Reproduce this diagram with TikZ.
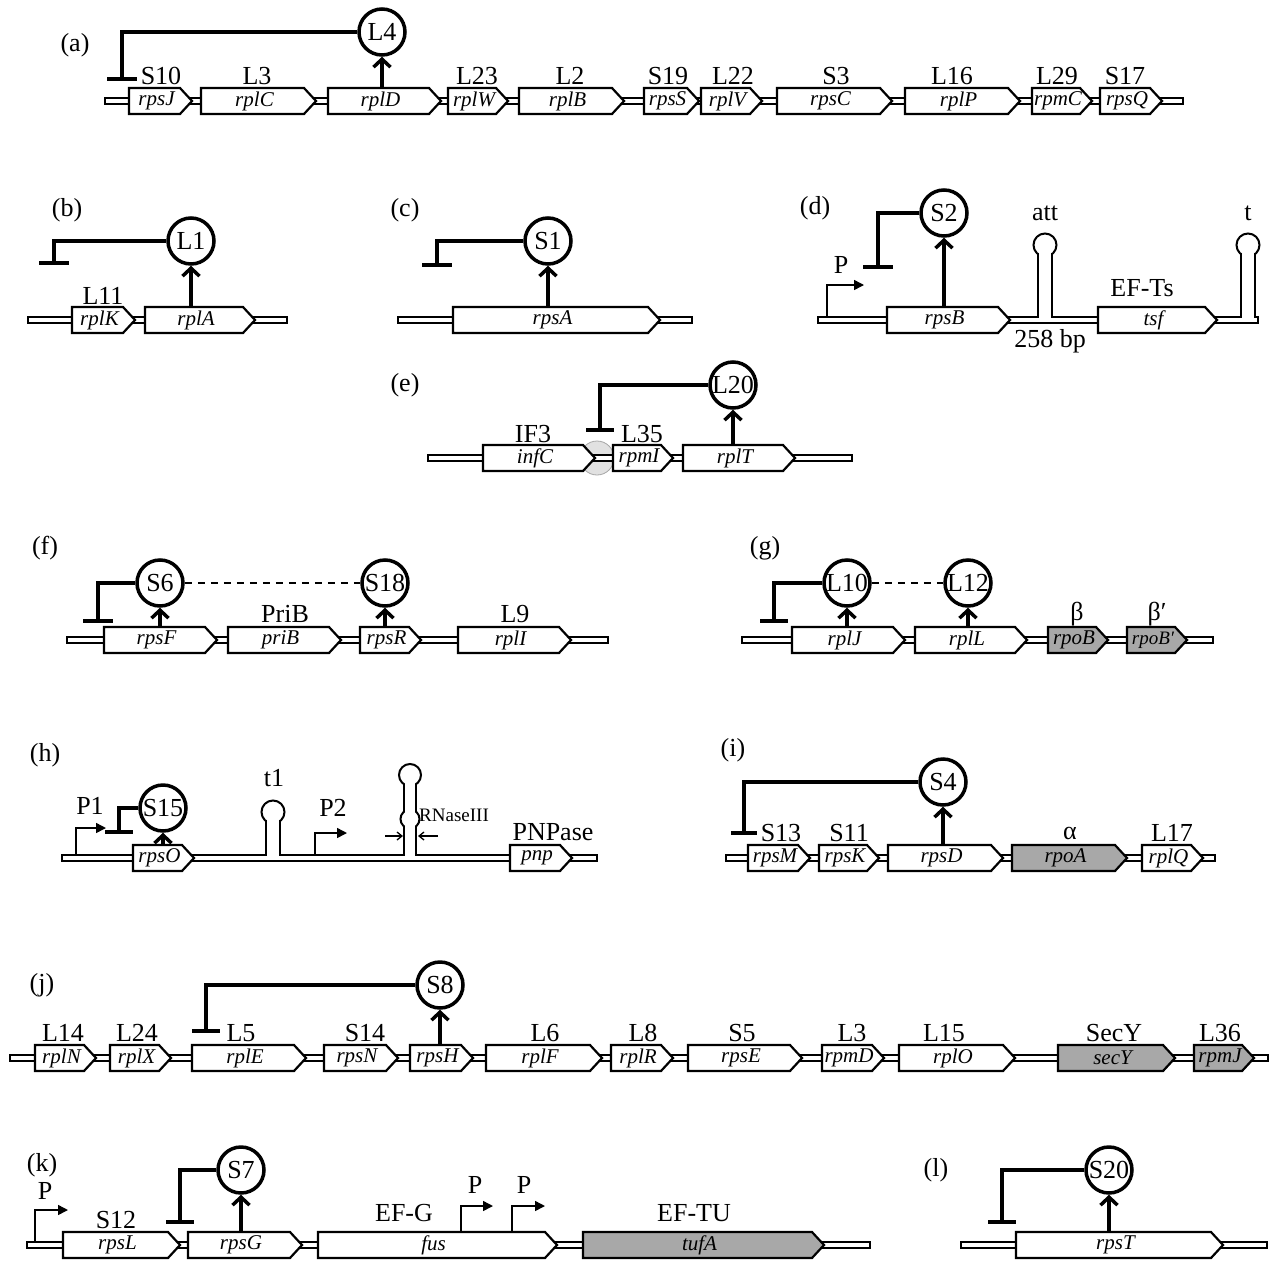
\documentclass[tikz,border=0pt]{standalone}
\usepackage{fontspec}
\setmainfont{Liberation Serif}
\usetikzlibrary{arrows.meta}
\definecolor{gg}{RGB}{168,168,168}
\definecolor{lg}{RGB}{225,225,225}
\newcommand\labf{\fontsize{26}{28}\selectfont}
\newcommand\genef{\fontsize{21}{23}\selectfont\itshape}
\tikzset{
 dnast/.style={draw=black, line width=2pt, fill=white},
 gbox/.style={draw=black, line width=2.2pt, fill=white, line join=miter},
 gboxg/.style={gbox, fill=gg},
 gtext/.style={font=\genef, inner sep=0pt},
 lab/.style={font=\labf, inner sep=0pt},
 prot/.style={circle, draw, line width=3.5pt, minimum size=46pt, inner sep=0pt, font=\labf, fill=white},
 act/.style={line width=3.5pt, -{Straight Barb[length=8pt,width=17pt]}},
 inh/.style={line width=3.5pt},
 barst/.style={line width=4.5pt},
 prom/.style={line width=1.5pt, -{Triangle[length=10pt,width=10pt]}},
 dashc/.style={line width=1.5pt, dash pattern=on 7pt off 6pt},
 thinl/.style={line width=2pt},
 rna/.style={line width=1.3pt, -{Straight Barb[length=5pt,width=8pt]}},
}
% DNA: x1 x2 y
\newcommand\dna[3]{\draw[dnast] (#1,#3-3) rectangle (#2,#3+3);}
% gene: name x1 x2 y text style
\newcommand\gn[6]{%
 \draw[#6] (#2,#4-13) -- (#3-12,#4-13) -- (#3,#4) -- (#3-12,#4+13) -- (#2,#4+13) -- cycle;
 \node[gtext] (#1) at ({(#2+#3-8)/2},#4) {#5};
 \coordinate (#1t) at ({(#2+#3-8)/2},#4-13);}
% hairpin: name cx dnaY loopY
\newcommand\hpin[4]{%
 \draw[thinl, fill=white] (#2,#4) circle[radius=11.5pt];
 \fill[white] (#2-6,#4+8) rectangle (#2+6,#3-1.9);
 \draw[thinl] (#2-7,#4+9.1) -- (#2-7,#3-3) (#2+7,#4+9.1) -- (#2+7,#3-3);
 \coordinate (#1) at (#2,#4);}
% bar: coordinate name
\newcommand\tbar[2]{\draw[barst] ([xshift=-#2pt]#1) -- ([xshift=#2pt]#1);}
\begin{document}
\begin{tikzpicture}[x=1pt,y=-1pt]
\useasboundingbox (0,0) rectangle (1275,1261);
\fill[white] (0,0) rectangle (1275,1261);

% ---------------- (a)
\node[lab] (la) at (75,45) {(a)};
\dna{105}{1183}{101}
\gn{rpsJ}{129}{192}{101}{rpsJ}{gbox}
\gn{rplC}{201}{316}{101}{rplC}{gbox}
\gn{rplD}{328}{441}{101}{rplD}{gbox}
\gn{rplW}{448}{508}{101}{rplW}{gbox}
\gn{rplB}{519}{624}{101}{rplB}{gbox}
\gn{rpsS}{644}{699}{101}{rpsS}{gbox}
\gn{rplV}{701}{762}{101}{rplV}{gbox}
\gn{rpsC}{777}{892}{101}{rpsC}{gbox}
\gn{rplP}{905}{1020}{101}{rplP}{gbox}
\gn{rpmC}{1032}{1092}{101}{rpmC}{gbox}
\gn{rpsQ}{1100}{1162}{101}{rpsQ}{gbox}
\node[lab] (aS10) at (161,76) {S10};
\node[lab] (aL3) at (257,76) {L3};
\node[lab] (aL23) at (477,76) {L23};
\node[lab] (aL2) at (570,76) {L2};
\node[lab] (aS19) at (668,76) {S19};
\node[lab] (aL22) at (733,76) {L22};
\node[lab] (aS3) at (836,76) {S3};
\node[lab] (aL16) at (952,76) {L16};
\node[lab] (aL29) at (1057,76) {L29};
\node[lab] (aS17) at (1125,76) {S17};
\node[prot] (L4) at (382,32) {L4};
\draw[act] (L4 |- rplDt) -- (L4);
\coordinate (bA) at (122,79);
\draw[inh] (L4.west) -| (bA);
\tbar{bA}{15}

% ---------------- (b)
\node[lab] (lb) at (67,210) {(b)};
\dna{28}{287}{320}
\gn{rplK}{72}{135}{320}{rplK}{gbox}
\gn{rplA}{145}{255}{320}{rplA}{gbox}
\node[lab] (bL11) at (103,296) {L11};
\node[prot] (L1) at (191,241) {L1};
\draw[act] (L1 |- rplAt) -- (L1);
\coordinate (bB) at (54,263);
\draw[inh] (L1.west) -| (bB);
\tbar{bB}{15}

% ---------------- (c)
\node[lab] (lc) at (405,210) {(c)};
\dna{398}{692}{320}
\gn{rpsA}{453}{660}{320}{rpsA}{gbox}
\node[prot] (S1) at (548,241) {S1};
\draw[act] (S1 |- rpsAt) -- (S1);
\coordinate (bC) at (437,265);
\draw[inh] (S1.west) -| (bC);
\tbar{bC}{15}

% ---------------- (d)
\node[lab] (ld) at (815,208) {(d)};
\dna{818}{1258}{320}
\gn{rpsB}{887}{1010}{320}{rpsB}{gbox}
\gn{tsf}{1098}{1217}{320}{tsf}{gbox}
\hpin{att}{1045}{320}{245}
\hpin{term}{1248}{320}{245}
\node[lab] (dAtt) at (1045,213) {att};
\node[lab] (dT) at (1248,213) {t};
\node[lab] (dBp) at (1050,341) {258 bp};
\node[lab] (dEFTs) at (1142,288) {EF-Ts};
\node[prot] (S2) at (944,213) {S2};
\draw[act] (S2 |- rpsBt) -- (S2);
\coordinate (bD) at (878,267);
\draw[inh] (S2.west) -| (bD);
\tbar{bD}{15}
\coordinate (pD) at (827,317);
\coordinate (pDe) at (864,285);
\draw[prom] (pD) |- (pDe);
\node[lab] (dP) at (841,265) {P};

% ---------------- (e)
\node[lab] (le) at (405,385) {(e)};
\draw[draw=gray!70, line width=0.8pt, fill=lg] (597,458) circle[radius=17pt];
\dna{428}{852}{458}
\gn{infC}{483}{595}{458}{infC}{gbox}
\gn{rpmI}{613}{673}{458}{rpmI}{gbox}
\gn{rplT}{683}{795}{458}{rplT}{gbox}
\node[lab] (eIF3) at (533,434) {IF3};
\node[lab] (eL35) at (642,434) {L35};
\node[prot] (L20) at (733,385) {L20};
\draw[act] (L20 |- rplTt) -- (L20);
\coordinate (bE) at (600,430);
\draw[inh] (L20.west) -| (bE);
\tbar{bE}{14}

% ---------------- (f)
\node[lab] (lf) at (45,548) {(f)};
\dna{67}{608}{640}
\gn{rpsF}{104}{217}{640}{rpsF}{gbox}
\gn{priB}{228}{341}{640}{priB}{gbox}
\gn{rpsR}{360}{421}{640}{rpsR}{gbox}
\gn{rplI}{458}{571}{640}{rplI}{gbox}
\node[lab] (fPriB) at (285,614) {PriB};
\node[lab] (fL9) at (515,614) {L9};
\node[prot] (S6) at (160,583) {S6};
\node[prot] (S18) at (385,583) {S18};
\draw[act] (S6 |- rpsFt) -- (S6);
\draw[act] (S18 |- rpsRt) -- (S18);
\draw[dashc] (S6) -- (S18);
\coordinate (bF) at (98,621);
\draw[inh] (S6.west) -| (bF);
\tbar{bF}{15}

% ---------------- (g)
\node[lab] (lg) at (765,548) {(g)};
\dna{742}{1213}{640}
\gn{rplJ}{792}{905}{640}{rplJ}{gbox}
\gn{rplL}{915}{1027}{640}{rplL}{gbox}
\gn{rpoB}{1048}{1108}{640}{rpoB}{gboxg}
\gn{rpoBp}{1127}{1187}{640}{\fontsize{19}{21}\selectfont rpoB′}{gboxg}
\node[lab] (gBeta) at (1077,614) {β};
\node[lab] (gBetap) at (1157,614) {β′};
\node[prot] (L10) at (847,583) {L10};
\node[prot] (L12) at (968,583) {L12};
\draw[act] (L10 |- rplJt) -- (L10);
\draw[act] (L12 |- rplLt) -- (L12);
\draw[dashc] (L10) -- (L12);
\coordinate (bG) at (774,621);
\draw[inh] (L10.west) -| (bG);
\tbar{bG}{14}

% ---------------- (h)
\node[lab] (lh) at (45,755) {(h)};
\dna{62}{597}{858}
\gn{rpsO}{133}{194}{858}{rpsO}{gbox}
\gn{pnp}{510}{572}{858}{pnp}{gbox}
\node[lab] (hPNP) at (553,832) {PNPase};
\hpin{tone}{273}{858}{812}
\node[lab] (hT1) at (274,778) {t1};
% double hairpin
\draw[thinl, fill=white] (410,775) circle[radius=11pt];
\draw[thinl, fill=white] (410,819) circle[radius=9.5pt];
\fill[white] (405,782) rectangle (415,856.1);
\draw[thinl] (404,784.2) -- (404,811.5) (416,784.2) -- (416,811.5)
             (404,826.5) -- (404,855) (416,826.5) -- (416,855);
\coordinate (rnA) at (385,836);
\coordinate (rnAe) at (403,836);
\coordinate (rnB) at (438,836);
\coordinate (rnBe) at (418,836);
\draw[rna] (rnA) -- (rnAe);
\draw[rna] (rnB) -- (rnBe);
\node[font=\fontsize{19}{21}\selectfont, inner sep=0pt, anchor=west] (hRN) at (419,815) {RNaseIII};
\node[prot] (S15) at (163,808) {S15};
\draw[act] (S15 |- rpsOt) -- (S15);
\coordinate (bH) at (119,832);
\draw[inh] (S15.west) -| (bH);
\tbar{bH}{14}
\coordinate (pH1) at (76,855);
\coordinate (pH1e) at (106,828);
\draw[prom] (pH1) |- (pH1e);
\node[lab] (hP1) at (90,806) {P1};
\coordinate (pH2) at (315,855);
\coordinate (pH2e) at (347,833);
\draw[prom] (pH2) |- (pH2e);
\node[lab] (hP2) at (333,808) {P2};

% ---------------- (i)
\node[lab] (li) at (733,750) {(i)};
\dna{726}{1215}{858}
\gn{rpsM}{748}{810}{858}{rpsM}{gbox}
\gn{rpsK}{819}{879}{858}{rpsK}{gbox}
\gn{rpsD}{888}{1003}{858}{rpsD}{gbox}
\gn{rpoA}{1012}{1127}{858}{rpoA}{gboxg}
\gn{rplQ}{1142}{1203}{858}{rplQ}{gbox}
\node[lab] (iS13) at (781,833) {S13};
\node[lab] (iS11) at (849,833) {S11};
\node[lab] (iAlpha) at (1070,833) {α};
\node[lab] (iL17) at (1172,833) {L17};
\node[prot] (S4) at (943,782) {S4};
\draw[act] (S4 |- rpsDt) -- (S4);
\coordinate (bI) at (744,833);
\draw[inh] (S4.west) -| (bI);
\tbar{bI}{13}

% ---------------- (j)
\node[lab] (lj) at (42,985) {(j)};
\dna{10}{1268}{1058}
\gn{rplN}{35}{96}{1058}{rplN}{gbox}
\gn{rplX}{110}{171}{1058}{rplX}{gbox}
\gn{rplE}{192}{306}{1058}{rplE}{gbox}
\gn{rpsN}{324}{398}{1058}{rpsN}{gbox}
\gn{rpsH}{410}{473}{1058}{rpsH}{gbox}
\gn{rplF}{486}{602}{1058}{rplF}{gbox}
\gn{rplR}{611}{673}{1058}{rplR}{gbox}
\gn{rpsE}{688}{802}{1058}{rpsE}{gbox}
\gn{rpmD}{822}{884}{1058}{rpmD}{gbox}
\gn{rplO}{899}{1015}{1058}{rplO}{gbox}
\gn{secY}{1058}{1175}{1058}{secY}{gboxg}
\gn{rpmJ}{1194}{1254}{1058}{rpmJ}{gboxg}
\node[lab] (jL14) at (63,1033) {L14};
\node[lab] (jL24) at (137,1033) {L24};
\node[lab] (jL5) at (241,1033) {L5};
\node[lab] (jS14) at (365,1033) {S14};
\node[lab] (jL6) at (545,1033) {L6};
\node[lab] (jL8) at (643,1033) {L8};
\node[lab] (jS5) at (742,1033) {S5};
\node[lab] (jL3) at (852,1033) {L3};
\node[lab] (jL15) at (944,1033) {L15};
\node[lab] (jSecY) at (1114,1033) {SecY};
\node[lab] (jL36) at (1220,1033) {L36};
\node[prot] (S8) at (440,985) {S8};
\draw[act] (S8 |- rpsHt) -- (S8);
\coordinate (bJ) at (206,1031);
\draw[inh] (S8.west) -| (bJ);
\tbar{bJ}{14}

% ---------------- (k)
\node[lab] (lk) at (42,1165) {(k)};
\dna{27}{870}{1245}
\gn{rpsL}{63}{180}{1245}{rpsL}{gbox}
\gn{rpsG}{188}{302}{1245}{rpsG}{gbox}
\gn{fus}{318}{557}{1245}{fus}{gbox}
\gn{tufA}{583}{824}{1245}{tufA}{gboxg}
\node[lab] (kS12) at (116,1220) {S12};
\node[lab] (kEFG) at (404,1213) {EF-G};
\node[lab] (kEFTU) at (694,1213) {EF-TU};
\node[prot] (S7) at (241,1170) {S7};
\draw[act] (S7 |- rpsGt) -- (S7);
\coordinate (bK) at (180,1222);
\draw[inh] (S7.west) -| (bK);
\tbar{bK}{14}
\coordinate (pK1) at (35,1242);
\coordinate (pK1e) at (68,1210);
\draw[prom] (pK1) |- (pK1e);
\node[lab] (kP1) at (45,1191) {P};
\coordinate (pK2) at (461,1232);
\coordinate (pK2e) at (493,1206);
\draw[prom] (pK2) |- (pK2e);
\node[lab] (kP2) at (475,1185) {P};
\coordinate (pK3) at (512,1232);
\coordinate (pK3e) at (545,1206);
\draw[prom] (pK3) |- (pK3e);
\node[lab] (kP3) at (524,1185) {P};

% ---------------- (l)
\node[lab] (ll) at (936,1170) {(l)};
\dna{961}{1267}{1245}
\gn{rpsT}{1016}{1223}{1245}{rpsT}{gbox}
\node[prot] (S20) at (1109,1170) {S20};
\draw[act] (S20 |- rpsTt) -- (S20);
\coordinate (bL) at (1002,1222);
\draw[inh] (S20.west) -| (bL);
\tbar{bL}{14}
\end{tikzpicture}
\end{document}
